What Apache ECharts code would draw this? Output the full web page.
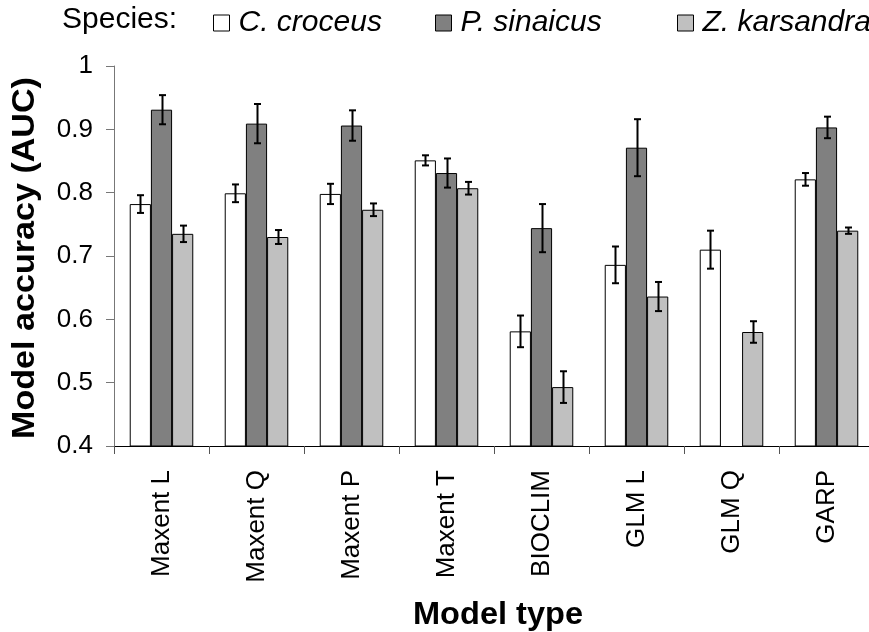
<!DOCTYPE html>
<html>
<head>
<meta charset="utf-8">
<script src="https://cdn.jsdelivr.net/npm/echarts@6/dist/echarts.min.js"></script>
<style>
  html, body { margin: 0; padding: 0; background: #fff; overflow: hidden; }
  /* the plot runs a few pixels past the right edge of the page */
  #chart { width: 880px; height: 632px; }
</style>
</head>
<body>
<div id="chart"></div>
<script>
// Model types on the category axis
const models = ['Maxent L', 'Maxent Q', 'Maxent P', 'Maxent T', 'BIOCLIM', 'GLM L', 'GLM Q', 'GARP'];

// Species names (legend)
const speciesNames = ['C. croceus', 'P. sinaicus', 'Z. karsandra'];

// Mean AUC per model and its error (± half-length of the error bar)
const croceusAUC   = [0.782, 0.799, 0.798, 0.851, 0.581, 0.686, 0.710, 0.821];
const croceusErr   = [0.014, 0.014, 0.016, 0.008, 0.025, 0.029, 0.030, 0.010];
const sinaicusAUC  = [0.931, 0.909, 0.906, 0.831, 0.744, 0.871, null,  0.903];
const sinaicusErr  = [0.023, 0.031, 0.024, 0.023, 0.038, 0.045, null,  0.017];
const karsandraAUC = [0.735, 0.730, 0.773, 0.807, 0.493, 0.636, 0.580, 0.740];
const karsandraErr = [0.013, 0.011, 0.010, 0.010, 0.025, 0.023, 0.017, 0.005];

// Value-axis range and tick step
const yMin = 0.4, yMax = 1.0, yStep = 0.1;

const FONT = '"Liberation Sans", Arial, sans-serif';
const BAR_FRACTION = 0.223;          // bar width as a share of one category band
const fills = ['#ffffff', '#808080', '#c0c0c0'];

const chart = echarts.init(document.getElementById('chart'), null, { renderer: 'canvas' });

function barSeries(name, values, slot) {
  return {
    type: 'bar',
    name: name,
    data: values.map(v => (v == null ? '-' : v)),
    barWidth: (BAR_FRACTION * 100) + '%',
    barGap: '0%',
    itemStyle: { color: fills[slot], borderColor: '#000', borderWidth: 1 },
    emphasis: { disabled: true },
    z: 2
  };
}

function errorSeries(name, values, errs, slot) {
  const rows = [];
  values.forEach((v, i) => { if (v != null) rows.push([i, v, errs[i]]); });
  return {
    type: 'custom',
    name: name + ' error',
    data: rows,
    encode: { x: 0, y: 1 },
    z: 5,
    silent: true,
    renderItem(params, api) {
      const i = api.value(0), m = api.value(1), e = api.value(2);
      const band = api.size([1, 0])[0];
      const dx = (slot - 1) * band * BAR_FRACTION;
      const hi = api.coord([i, m + e]);
      const lo = api.coord([i, m - e]);
      const x = Math.round(hi[0] + dx) + 0.5;
      const cap = 3.5;
      const st = { stroke: '#000', lineWidth: 2 };
      return {
        type: 'group',
        children: [
          { type: 'line', shape: { x1: x, y1: hi[1], x2: x, y2: lo[1] }, style: st },
          { type: 'line', shape: { x1: x - cap, y1: hi[1], x2: x + cap, y2: hi[1] }, style: st },
          { type: 'line', shape: { x1: x - cap, y1: lo[1], x2: x + cap, y2: lo[1] }, style: st }
        ]
      };
    }
  };
}

function legendFor(name, left) {
  return {
    data: [name],
    left: left,
    top: 8,
    orient: 'horizontal',
    icon: 'rect',
    itemWidth: 16,
    itemHeight: 16,
    selectedMode: false,
    padding: 0,
    itemStyle: { borderColor: '#000', borderWidth: 1 },
    textStyle: { fontFamily: FONT, fontSize: 30, fontStyle: 'italic', color: '#000', padding: [0, 0, 0, 4] }
  };
}

const option = {
  backgroundColor: '#fff',
  animation: false,
  grid: { left: 114, width: 760, top: 66, bottom: 186, containLabel: false },
  legend: [
    legendFor(speciesNames[0], 213),
    legendFor(speciesNames[1], 435),
    legendFor(speciesNames[2], 677)
  ],
  graphic: [
    {
      type: 'text', left: 62, top: 5,
      style: { text: 'Species:', font: '30px ' + FONT, fill: '#000' }
    },
    {
      type: 'text', x: 25, y: 258, rotation: Math.PI / 2, scaleX: 1.1,
      style: { text: 'Model accuracy (AUC)', font: 'bold 31px ' + FONT, fill: '#000',
               textAlign: 'center', textVerticalAlign: 'middle' }
    },
    {
      type: 'text', x: 498, y: 615, scaleX: 1.05,
      style: { text: 'Model type', font: 'bold 31px ' + FONT, fill: '#000',
               textAlign: 'center', textVerticalAlign: 'middle' }
    }
  ],
  xAxis: {
    type: 'category',
    data: models,
    boundaryGap: true,
    axisLine: { show: true, lineStyle: { color: '#000', width: 1 } },
    axisTick: { show: true, length: 8, lineStyle: { color: '#555' } },
    axisLabel: { rotate: 90, margin: 24, fontFamily: FONT, fontSize: 26, color: '#000', interval: 0 },
    splitLine: { show: false }
  },
  yAxis: {
    type: 'value',
    min: yMin, max: yMax, interval: yStep,
    axisLine: { show: true, lineStyle: { color: '#777', width: 1 } },
    axisTick: { show: true, inside: false, length: 8, lineStyle: { color: '#777' } },
    axisLabel: { margin: 21, fontFamily: FONT, fontSize: 26, color: '#000',
                 formatter: v => String(Math.round(v * 10) / 10) },
    splitLine: { show: false }
  },
  series: [
    barSeries(speciesNames[0], croceusAUC, 0),
    barSeries(speciesNames[1], sinaicusAUC, 1),
    barSeries(speciesNames[2], karsandraAUC, 2),
    errorSeries(speciesNames[0], croceusAUC, croceusErr, 0),
    errorSeries(speciesNames[1], sinaicusAUC, sinaicusErr, 1),
    errorSeries(speciesNames[2], karsandraAUC, karsandraErr, 2)
  ]
};

chart.setOption(option);
</script>
</body>
</html>
